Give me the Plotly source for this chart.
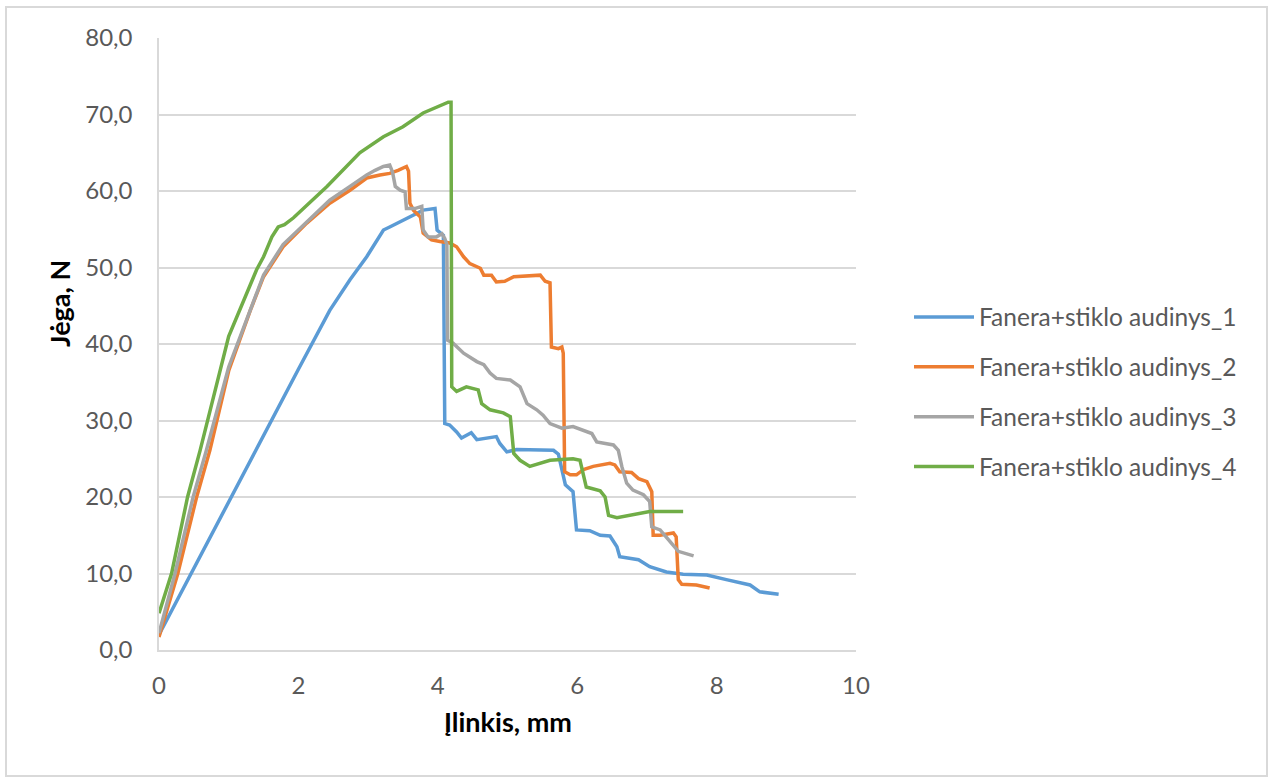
import plotly.graph_objects as go

# Deflection (mm) and force (N) readings for each specimen
x_s1 = [0, 0.47, 1.04, 1.35, 2.0, 2.45, 2.74, 2.98, 3.22, 3.31, 3.51, 3.65, 3.79, 3.96,
        3.99, 4.08, 4.10, 4.17, 4.27, 4.34, 4.48, 4.56, 4.84, 4.89, 4.99, 5.13, 5.40,
        5.66, 5.73, 5.83, 5.94, 5.99, 6.18, 6.33, 6.47, 6.57, 6.61, 6.88, 7.04, 7.28,
        7.52, 7.86, 8.14, 8.48, 8.62, 8.89]
y_s1 = [2.0, 10.2, 20.0, 25.4, 36.7, 44.4, 48.4, 51.4, 54.9, 55.3, 56.2, 56.9, 57.5, 57.7,
        54.9, 54.2, 29.6, 29.4, 28.5, 27.7, 28.4, 27.5, 27.9, 27.0, 25.9, 26.2, 26.1,
        26.1, 25.6, 21.6, 20.7, 15.7, 15.6, 15.0, 14.9, 13.5, 12.2, 11.8, 10.9, 10.2,
        9.9, 9.8, 9.2, 8.5, 7.6, 7.3]

x_s2 = [0, 0.27, 0.54, 0.73, 1.0, 1.31, 1.50, 1.78, 2.12, 2.45, 2.74, 2.98, 3.17, 3.31,
        3.43, 3.55, 3.58, 3.60, 3.65, 3.70, 3.75, 3.79, 3.91, 4.03, 4.17, 4.27, 4.37,
        4.46, 4.51, 4.61, 4.66, 4.77, 4.84, 4.96, 5.09, 5.28, 5.47, 5.54, 5.61, 5.63,
        5.73, 5.78, 5.80, 5.82, 5.90, 5.99, 6.09, 6.23, 6.47, 6.54, 6.61, 6.78, 6.88,
        7.00, 7.07, 7.09, 7.19, 7.38, 7.42, 7.45, 7.50, 7.71, 7.90]
y_s2 = [1.7, 10.0, 20.0, 26.1, 36.5, 44.4, 48.8, 52.7, 55.8, 58.4, 60.1, 61.7, 62.1, 62.3,
        62.7, 63.2, 62.6, 58.4, 57.5, 57.1, 56.6, 54.5, 53.6, 53.4, 53.2, 52.7, 51.4,
        50.5, 50.3, 49.9, 49.0, 49.0, 48.1, 48.2, 48.8, 48.9, 49.0, 48.2, 48.0, 39.6,
        39.4, 39.6, 38.8, 23.3, 22.9, 22.9, 23.6, 24.0, 24.4, 24.2, 23.3, 23.2, 22.4,
        22.0, 20.7, 15.0, 15.0, 15.3, 14.8, 9.2, 8.6, 8.5, 8.1]

x_s3 = [0, 0.23, 0.49, 0.68, 1.0, 1.31, 1.50, 1.78, 2.12, 2.45, 2.74, 2.98, 3.10, 3.22,
        3.31, 3.35, 3.39, 3.46, 3.53, 3.55, 3.67, 3.77, 3.79, 3.86, 3.98, 4.06, 4.10,
        4.13, 4.14, 4.22, 4.37, 4.56, 4.66, 4.75, 4.84, 5.04, 5.18, 5.28, 5.42, 5.51,
        5.61, 5.78, 5.94, 6.13, 6.21, 6.28, 6.52, 6.59, 6.64, 6.71, 6.80, 6.95, 7.04,
        7.07, 7.19, 7.33, 7.45, 7.67]
y_s3 = [2.2, 10.0, 20.0, 26.1, 37.0, 44.6, 49.0, 53.0, 56.0, 58.8, 60.6, 62.1, 62.7, 63.2,
        63.4, 62.5, 60.6, 60.1, 59.9, 57.7, 57.7, 58.0, 54.9, 54.0, 54.0, 54.4, 53.8,
        53.0, 40.5, 40.1, 38.8, 37.7, 37.3, 36.2, 35.5, 35.3, 34.4, 32.2, 31.4, 30.7,
        29.6, 29.0, 29.2, 28.5, 28.3, 27.2, 26.8, 26.1, 24.0, 21.8, 20.9, 20.3, 19.4,
        16.1, 15.7, 14.2, 12.9, 12.3]

x_s4 = [0, 0.18, 0.41, 0.59, 1.0, 1.16, 1.40, 1.50, 1.62, 1.71, 1.80, 1.93, 2.41, 2.88,
        3.22, 3.50, 3.79, 4.15, 4.19, 4.20, 4.27, 4.41, 4.58, 4.63, 4.75, 4.94, 5.04,
        5.09, 5.18, 5.32, 5.61, 5.94, 6.04, 6.13, 6.33, 6.40, 6.45, 6.57, 6.85, 7.04,
        7.52]
y_s4 = [4.8, 10.0, 20.0, 26.1, 41.0, 44.4, 49.7, 51.4, 54.0, 55.3, 55.6, 56.5, 60.6, 65.0,
        67.1, 68.4, 70.2, 71.6, 71.6, 34.4, 33.8, 34.4, 34.0, 32.2, 31.4, 31.0, 30.5,
        25.7, 24.8, 24.0, 24.8, 25.0, 24.8, 21.3, 20.8, 20.0, 17.6, 17.3, 17.8, 18.1,
        18.1]

series_names = ["Fanera+stiklo audinys_1", "Fanera+stiklo audinys_2",
                "Fanera+stiklo audinys_3", "Fanera+stiklo audinys_4"]
series_colors = ["#5B9BD5", "#ED7D31", "#A5A5A5", "#70AD47"]

x_ticks = [0, 2, 4, 6, 8, 10]
y_ticks = [0, 10, 20, 30, 40, 50, 60, 70, 80]

FONT = "Lato"
W, H = 1275, 778
L, R, T, B = 159, 856, 38, 650  # plot area in pixels


def px_x(p):
    return (p - L) / (R - L)


def px_y(p):
    return (B - p) / (B - T)


fig = go.Figure()
for xs, ys, name, color in zip([x_s1, x_s2, x_s3, x_s4], [y_s1, y_s2, y_s3, y_s4],
                               series_names, series_colors):
    fig.add_trace(go.Scatter(x=xs, y=ys, mode="lines", name=name,
                             line=dict(color=color, width=3.5), legendgroup=name))

fig.update_layout(
    width=W, height=H,
    margin=dict(l=L, r=W - R, t=T, b=H - B, pad=0),
    paper_bgcolor="white", plot_bgcolor="white",
    separators=", ",
    font=dict(family=FONT, size=24, color="#595959"),
    showlegend=True,
    legend=dict(x=px_x(909), y=px_y(392), xanchor="left", yanchor="middle",
                font=dict(family=FONT, size=24.5, color="#595959"),
                traceorder="grouped", tracegroupgap=15, itemwidth=60,
                bgcolor="rgba(0,0,0,0)"),
    xaxis=dict(range=[0, 10], tickvals=x_ticks, ticktext=[str(v) for v in x_ticks],
               showgrid=False, zeroline=False, showline=True, linecolor="#d9d9d9",
               linewidth=1.5, ticks="", ticklabelstandoff=13,
               tickfont=dict(family=FONT, size=24, color="#595959")),
    yaxis=dict(range=[0, 80], tickvals=y_ticks, tickformat=".1f",
               showgrid=True, gridcolor="#d9d9d9", gridwidth=1.5, zeroline=False,
               showline=True, linecolor="#d9d9d9", linewidth=1.5, ticks="",
               ticklabelstandoff=20,
               tickfont=dict(family=FONT, size=24, color="#595959")),
    annotations=[
        dict(text="<b>Įlinkis, mm</b>", xref="paper", yref="paper",
             x=0.5, y=px_y(721), xanchor="center", yanchor="middle", showarrow=False,
             font=dict(family=FONT, size=27, color="#000000")),
        dict(text="<b>Jėga, N</b>", xref="paper", yref="paper",
             x=px_x(59), y=px_y(304), xanchor="center", yanchor="middle", showarrow=False,
             textangle=-90, font=dict(family=FONT, size=27, color="#000000")),
    ],
    shapes=[
        dict(type="rect", xref="paper", yref="paper",
             x0=px_x(6), x1=px_x(1267), y0=px_y(776), y1=px_y(7),
             line=dict(color="#d9d9d9", width=2), fillcolor="rgba(0,0,0,0)", layer="below"),
    ],
)

fig.write_html("out.html")
